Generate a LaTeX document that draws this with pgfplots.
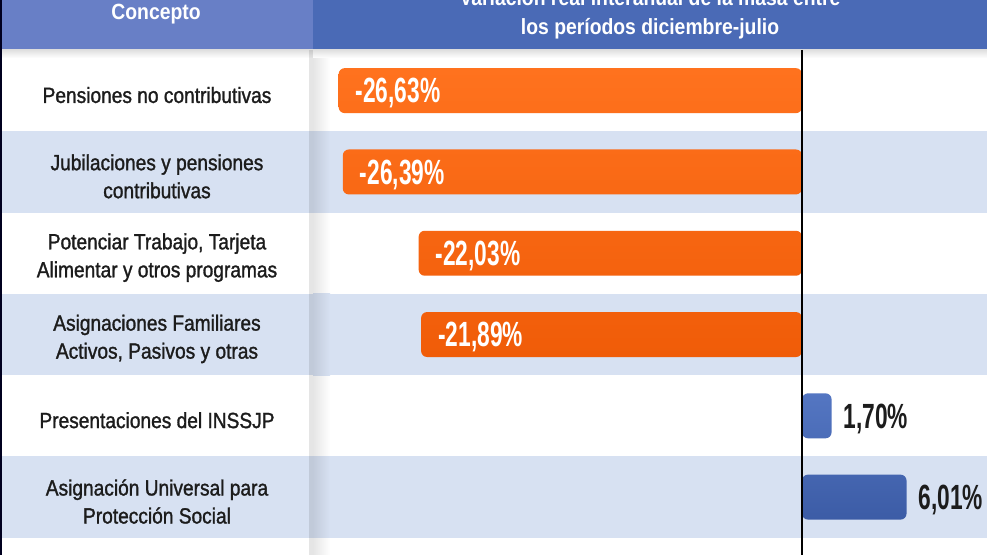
\documentclass[border=0pt]{standalone}
\usepackage{pgfplots}
\pgfplotsset{compat=1.18}
\usepackage{fontspec}
\setmainfont{Liberation Sans}[FakeStretch=0.88]
\newfontfamily\labfont{Liberation Sans}[FakeStretch=0.87,FakeBold=1.3]
\newfontfamily\valfont{Liberation Sans}[FakeStretch=0.65]
\definecolor{hdrL}{RGB}{104,127,198}
\definecolor{hdrR}{RGB}{74,106,182}
\definecolor{band}{RGB}{215,225,242}
\definecolor{orT}{RGB}{255,114,30}
\definecolor{orB}{RGB}{240,92,8}
\definecolor{blT}{RGB}{84,118,194}
\definecolor{blB}{RGB}{60,92,166}
\definecolor{txt}{RGB}{28,28,28}
\begin{document}
\begin{tikzpicture}[x=0.5pt,y=-0.5pt]
\useasboundingbox (0,0) rectangle (987,555);
\clip (0,0) rectangle (987,555);
\fill[white] (0,0) rectangle (987,555);
\foreach \r in {0,2,4,6} {
  \shade[left color=black!10!white, right color=white] (313,{50+81.3*\r}) rectangle (330,{50+81.3*(\r+1)});}
\foreach \r in {1,3,5} {
  \fill[band] (0,{50+81.3*\r}) rectangle (987,{50+81.3*(\r+1)});
  \shade[left color=black!10!band, right color=band] (313,{50+81.3*\r}) rectangle (330,{50+81.3*(\r+1)});}
% header
\fill[hdrL] (0,0) rectangle (313,50);
\fill[hdrR] (313,0) rectangle (987,50);
\shade[top color=black!12!white, bottom color=white] (0,50) rectangle (987,58);
% column shadow
\fill[black,opacity=0.10] (309,50) rectangle (313,555);
\fill[black!70!blue!40!black] (0,0) rectangle (2,555);
\node[white,font=\bfseries\fontsize{11}{14.5}\selectfont] at (156,14) {Concepto};
\node[white,font=\bfseries\fontsize{11}{14.5}\selectfont,align=center] at (650,14.5) {Variación real interanual de la masa entre\\los períodos diciembre-julio};
\begin{axis}[at={(0pt,-277.5pt)}, anchor=south west, scale only axis,
  width=493.5pt, height=277.5pt,
  xmin=-46.092, xmax=10.632, ymin=-0.115, ymax=6.712, y dir=reverse,
  axis line style={draw=none}, tick style={draw=none},
  xtick=\empty, ytick={1,2,3,4,5,6},
  yticklabels={Pensiones no contributivas,
    Jubilaciones y pensiones\\contributivas,
    {Potenciar Trabajo, Tarjeta\\Alimentar y otros programas},
    {Asignaciones Familiares\\Activos, Pasivos y otras},
    Presentaciones del INSSJP,
    Asignación Universal para\\Protección Social},
  yticklabel style={anchor=center, align=center, xshift=78.5pt, yshift=-2.2pt,
    text=txt, font=\labfont\fontsize{11}{14}\selectfont},
  clip=false]
\addplot[xbar, bar width=0.553, draw=none, top color=orT, bottom color=orB,
  rounded corners=3pt, point meta=x,
  nodes near coords={\pgfmathprintnumber[fixed,fixed zerofill,precision=2,use comma,assume math mode=true]{\pgfplotspointmeta}\%},
  nodes near coords style={anchor=west, text=white, xshift=5pt, yshift=-1.3pt,
    font=\valfont\bfseries\fontsize{17.5}{20}\selectfont}]
  coordinates {(-26.63,1) (-26.39,2) (-22.03,3) (-21.89,4)};
\addplot[xbar, bar width=0.553, draw=none, fill=orT!25!white,
  rounded corners=3pt] coordinates {(-21.8,6.99)};
\addplot[xbar, bar width=0.553, draw=none, top color=blT, bottom color=blB,
  rounded corners=3pt, point meta=x,
  nodes near coords={\pgfmathprintnumber[fixed,fixed zerofill,precision=2,use comma,assume math mode=true]{\pgfplotspointmeta}\%},
  nodes near coords style={anchor=west, text=txt, xshift=2.5pt, yshift=-1.5pt,
    font=\valfont\bfseries\fontsize{17.5}{20}\selectfont}]
  coordinates {(1.70,5) (6.01,6)};
\end{axis}
\draw[black, line width=0.8pt] (802,50) -- (802,555);
\end{tikzpicture}
\end{document}
